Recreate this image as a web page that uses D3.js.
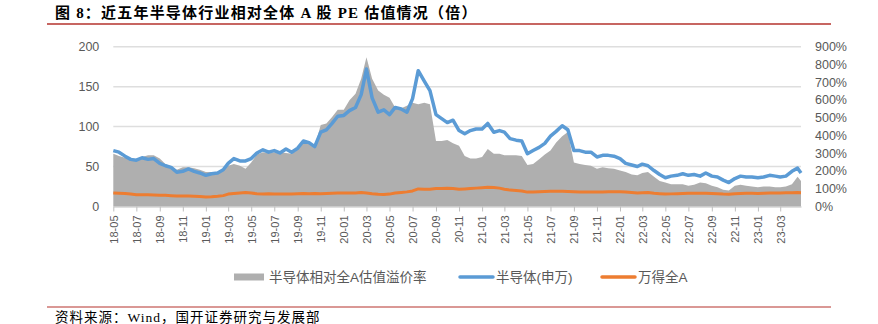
<!DOCTYPE html>
<html>
<head>
<meta charset="utf-8">
<script src="https://cdn.jsdelivr.net/npm/d3@7"></script>
<style>
  html, body { margin: 0; padding: 0; background: #fff; }
  svg { display: block; }
</style>
</head>
<body>
<svg id="chart" width="878" height="324"></svg>
<script>
// Semi-monthly observations from May 2018 (1st and 16th of each month), plus the final day
const startDate = new Date(2018, 4, 1);
const endDate = new Date(2023, 3, 25);

// 半导体相对全A估值溢价率 (%), right axis
const premium = [
  297, 284, 275, 266, 261, 279, 288, 288, 270, 239,
  225, 207, 221, 221, 216, 207, 194, 194, 194, 203,
  230, 239, 230, 212, 248, 293, 306, 302, 306, 306,
  302, 297, 320, 369, 365, 338, 459, 468, 504, 545,
  545, 599, 635, 720, 840, 720, 653, 630, 612, 558,
  554, 567, 585, 576, 585, 576, 369, 369, 374, 356,
  342, 284, 270, 270, 279, 324, 297, 297, 288, 288,
  288, 284, 234, 239, 266, 293, 315, 360, 396, 419,
  248, 239, 234, 230, 212, 221, 216, 212, 203, 194,
  180, 176, 189, 194, 167, 144, 135, 126, 126, 126,
  117, 122, 135, 131, 117, 108, 95, 90, 117, 122,
  117, 113, 108, 113, 113, 108, 108, 113, 126, 167,
  144
];

// 半导体(申万) PE (倍), left axis
const semiPE = [
  70, 68, 63, 59, 58, 61, 59, 60, 54, 51,
  49, 43, 44, 47, 44, 42, 39, 41, 42, 46,
  54, 60, 57, 57, 60, 67, 71, 68, 70, 67,
  72, 68, 73, 82, 80, 75, 93, 96, 104, 113,
  114, 120, 124, 140, 172, 136, 118, 121, 115, 124,
  122, 118, 135, 170, 157, 145, 115, 110, 105, 108,
  95, 91, 95, 97, 97, 104, 93, 95, 93, 85,
  83, 82, 66, 70, 74, 79, 88, 94, 101, 96,
  70, 70, 68, 68, 62, 64, 64, 63, 60, 54,
  52, 50, 53, 51, 45, 40, 36, 38, 39, 41,
  39, 40, 38, 42, 38, 37, 33, 30, 35, 38,
  37, 37, 36, 37, 39, 38, 37, 38, 44, 48,
  42
];

// 万得全A PE (倍), left axis
const allAPE = [
  16.8, 16.5, 16.2, 15.5, 14.8, 14.6, 14.8, 14.5, 14.2, 14.0,
  13.6, 13.2, 13.0, 13.2, 12.8, 12.5, 12.0, 12.2, 12.8, 13.6,
  15.5, 16.2, 16.8, 17.5, 16.8, 16.0, 15.8, 16.0, 15.7, 15.6,
  15.8, 15.8, 16.0, 16.2, 16.0, 16.2, 16.0, 16.3, 16.5, 16.8,
  16.8, 17.0, 17.0, 17.5, 17.0, 16.0, 15.2, 15.0, 15.5, 16.8,
  17.5, 18.3, 19.5, 22.0, 21.5, 21.5, 22.5, 22.5, 22.8, 22.5,
  21.5, 22.0, 22.5, 23.0, 23.5, 24.0, 23.8, 23.0, 21.5, 20.5,
  20.0, 19.5, 18.0, 18.0, 18.5, 18.8, 19.0, 19.0, 19.0, 18.8,
  18.5, 18.3, 18.0, 18.0, 18.0, 18.3, 18.5, 18.5, 18.5, 18.0,
  17.5, 17.0, 17.3, 17.5, 16.5, 16.0, 15.5, 15.8, 16.0, 16.3,
  16.5, 16.5, 16.5, 16.5, 16.3, 16.0, 15.5, 15.3, 16.0, 16.3,
  16.5, 16.5, 16.3, 16.5, 16.8, 17.0, 17.0, 17.2, 17.2, 17.5,
  17.3
];

const leftTicks = [0, 50, 100, 150, 200];
const rightTicks = [0, 100, 200, 300, 400, 500, 600, 700, 800, 900];
const legendLabels = ["半导体相对全A估值溢价率", "半导体(申万)", "万得全A"];
const titleText = "图 8：近五年半导体行业相对全体 A 股 PE 估值情况（倍）";
const sourceText = "资料来源：Wind，国开证券研究与发展部";

// Observation dates: 1st and 16th of each month, last point on the final day
const dates = premium.map((_, i) =>
  i === premium.length - 1
    ? endDate
    : new Date(2018, 4 + Math.floor(i / 2), i % 2 ? 16 : 1)
);

const rows = dates.map((d, i) => ({
  date: d, premium: premium[i], semi: semiPE[i], allA: allAPE[i]
}));

const COLORS = { area: "#afafaf", semi: "#5b9bd5", allA: "#ed7d31", text: "#595959", grid: "#dedede", axis: "#bfbfbf", rule: "#b5322d" };
const LABEL_FONT = "'Liberation Sans', 'Noto Sans CJK SC', sans-serif";
const SERIF_FONT = "'Liberation Serif', 'Noto Sans CJK SC', serif";

const plot = { left: 113.3, right: 801, top: 46.7, bottom: 206.5 };

const svg = d3.select("#chart");

const x = d3.scaleTime().domain([startDate, endDate]).range([plot.left, plot.right]);
const yL = d3.scaleLinear().domain([0, 200]).range([plot.bottom, plot.top]);
const yR = d3.scaleLinear().domain([0, 900]).range([plot.bottom, plot.top]);

// Title and its rule
svg.append("text")
  .attr("x", 55).attr("y", 18)
  .attr("font-family", SERIF_FONT)
  .attr("font-weight", "bold")
  .attr("font-size", 15)
  .attr("letter-spacing", 1.2)
  .attr("fill", "#000")
  .text(titleText);
svg.append("line")
  .attr("x1", 47).attr("x2", 831).attr("y1", 24).attr("y2", 24)
  .attr("stroke", COLORS.rule).attr("stroke-width", 1.5);

// Horizontal gridlines
svg.append("g")
  .selectAll("line")
  .data(leftTicks.slice(1))
  .join("line")
  .attr("x1", plot.left).attr("x2", plot.right)
  .attr("y1", d => yL(d)).attr("y2", d => yL(d))
  .attr("stroke", COLORS.grid).attr("stroke-width", 1.5);

// Premium area
const area = d3.area()
  .x(d => x(d.date))
  .y0(yR(0))
  .y1(d => yR(d.premium));
svg.append("path")
  .datum(rows)
  .attr("d", area)
  .attr("fill", COLORS.area);

// PE lines
const lineSemi = d3.line().x(d => x(d.date)).y(d => yL(d.semi)).curve(d3.curveLinear);
const lineAllA = d3.line().x(d => x(d.date)).y(d => yL(d.allA)).curve(d3.curveLinear);

svg.append("path")
  .datum(rows)
  .attr("d", lineAllA)
  .attr("fill", "none")
  .attr("stroke", COLORS.allA)
  .attr("stroke-width", 3)
  .attr("stroke-linejoin", "round");

svg.append("path")
  .datum(rows)
  .attr("d", lineSemi)
  .attr("fill", "none")
  .attr("stroke", COLORS.semi)
  .attr("stroke-width", 3.5)
  .attr("stroke-linejoin", "round");

// Left axis
const gL = svg.append("g")
  .attr("transform", `translate(${plot.left},0)`)
  .call(d3.axisLeft(yL).tickValues(leftTicks).tickSize(0).tickPadding(14));
gL.select(".domain").remove();
gL.selectAll("text")
  .attr("font-family", LABEL_FONT).attr("font-size", 12.5).attr("fill", COLORS.text);

// Right axis
const gR = svg.append("g")
  .attr("transform", `translate(${plot.right},0)`)
  .call(d3.axisRight(yR).tickValues(rightTicks).tickSize(0).tickPadding(14)
    .tickFormat(d => d + "%"));
gR.select(".domain").remove();
gR.selectAll("text")
  .attr("font-family", LABEL_FONT).attr("font-size", 12.5).attr("fill", COLORS.text);

// Bottom axis: every two months, labels rotated
const gX = svg.append("g")
  .attr("transform", `translate(0,${plot.bottom})`)
  .call(d3.axisBottom(x)
    .ticks(d3.timeMonth.every(2))
    .tickFormat(d3.timeFormat("%y-%m"))
    .tickSize(5).tickSizeOuter(0));
gX.select(".domain").attr("stroke", COLORS.axis).attr("stroke-width", 1.2);
gX.selectAll(".tick line").attr("stroke", COLORS.axis);
gX.selectAll("text")
  .attr("font-family", LABEL_FONT).attr("font-size", 11).attr("fill", COLORS.text)
  .attr("transform", "rotate(-90)")
  .attr("text-anchor", "end")
  .attr("x", -9).attr("y", 0).attr("dy", "0.35em");

// Legend
const legend = svg.append("g").attr("font-family", LABEL_FONT).attr("font-size", 13.5).attr("fill", COLORS.text);
const legY = 277;
legend.append("rect").attr("x", 234).attr("y", legY - 3.5).attr("width", 30).attr("height", 7).attr("fill", COLORS.area);
legend.append("text").attr("x", 269).attr("y", legY).attr("dy", "0.35em").text(legendLabels[0]);
legend.append("line").attr("x1", 460).attr("x2", 493).attr("y1", legY).attr("y2", legY)
  .attr("stroke", COLORS.semi).attr("stroke-width", 3.5).attr("stroke-linecap", "round");
legend.append("text").attr("x", 496).attr("y", legY).attr("dy", "0.35em").text(legendLabels[1]);
legend.append("line").attr("x1", 602).attr("x2", 635).attr("y1", legY).attr("y2", legY)
  .attr("stroke", COLORS.allA).attr("stroke-width", 3.5).attr("stroke-linecap", "round");
legend.append("text").attr("x", 638).attr("y", legY).attr("dy", "0.35em").text(legendLabels[2]);

// Source footer and its rule
svg.append("line")
  .attr("x1", 47).attr("x2", 831).attr("y1", 307).attr("y2", 307)
  .attr("stroke", COLORS.rule).attr("stroke-width", 1.2);
svg.append("text")
  .attr("x", 55).attr("y", 322)
  .attr("font-family", SERIF_FONT)
  .attr("font-size", 13.5)
  .attr("letter-spacing", 1)
  .attr("fill", "#000")
  .text(sourceText);
</script>
</body>
</html>
